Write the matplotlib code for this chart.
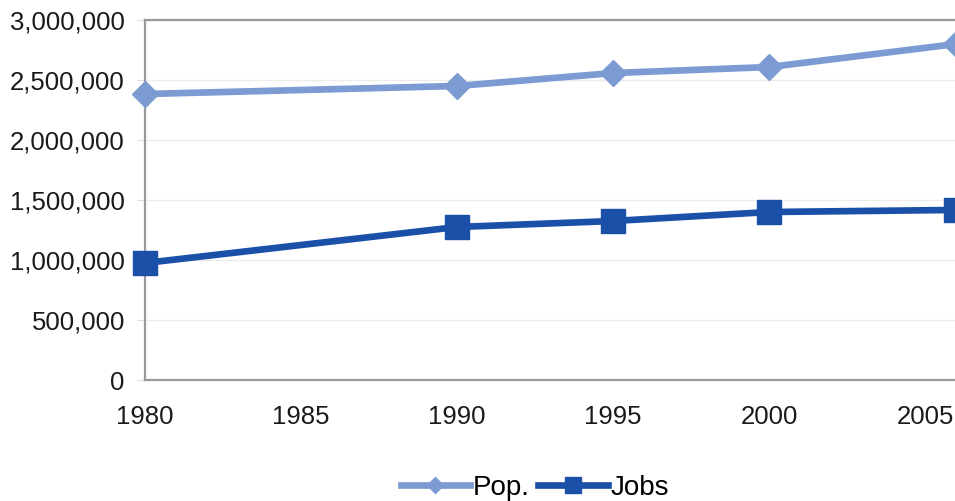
import matplotlib.pyplot as plt
from matplotlib.ticker import FuncFormatter

years = [1980, 1990, 1995, 2000, 2006]
pop = [2383000, 2450000, 2558000, 2608000, 2800000]
jobs = [975000, 1275000, 1325000, 1400000, 1417000]
xticks = [1980, 1985, 1990, 1995, 2000, 2005]
yticks = [0, 500000, 1000000, 1500000, 2000000, 2500000, 3000000]

plt.rcParams['font.family'] = ['Liberation Sans', 'DejaVu Sans']

fig = plt.figure(figsize=(9.55, 5.01), dpi=100)
ax = fig.add_axes([0.1518, 0.2415, 0.866, 0.7186])

pop_color = '#7b9bd2'
jobs_color = '#1b50a8'
ax.plot(years, pop, color=pop_color, lw=4.8, marker='D', ms=13,
        label='Pop.', clip_on=False, zorder=3)
ax.plot(years, jobs, color=jobs_color, lw=4.8, marker='s', ms=17,
        label='Jobs', clip_on=False, zorder=3)

ax.set_xlim(1980, 2006.5)
ax.set_ylim(0, 3000000)
ax.set_xticks(xticks)
ax.set_yticks(yticks)
ax.yaxis.set_major_formatter(FuncFormatter(lambda v, p: f'{int(v):,}'))
ax.grid(axis='y', color='#ececec', lw=1)
ax.set_axisbelow(True)

for s in ['left', 'bottom', 'top']:
    ax.spines[s].set_color('#999999')
    ax.spines[s].set_linewidth(1.6)
ax.spines['right'].set_visible(False)

ax.tick_params(axis='y', length=6, color='#e0e0e0', pad=8.5, labelsize=18.5, labelcolor='#1a1a1a')
ax.tick_params(axis='x', length=0, pad=18, labelsize=18.5, labelcolor='#1a1a1a')

fig.legend(loc='lower center', bbox_to_anchor=(0.56, -0.05), ncol=2, frameon=False,
           fontsize=20, handlelength=2.5, handletextpad=0.1, columnspacing=0.3,
           markerscale=0.65)

fig.savefig('out.png', dpi=100)
